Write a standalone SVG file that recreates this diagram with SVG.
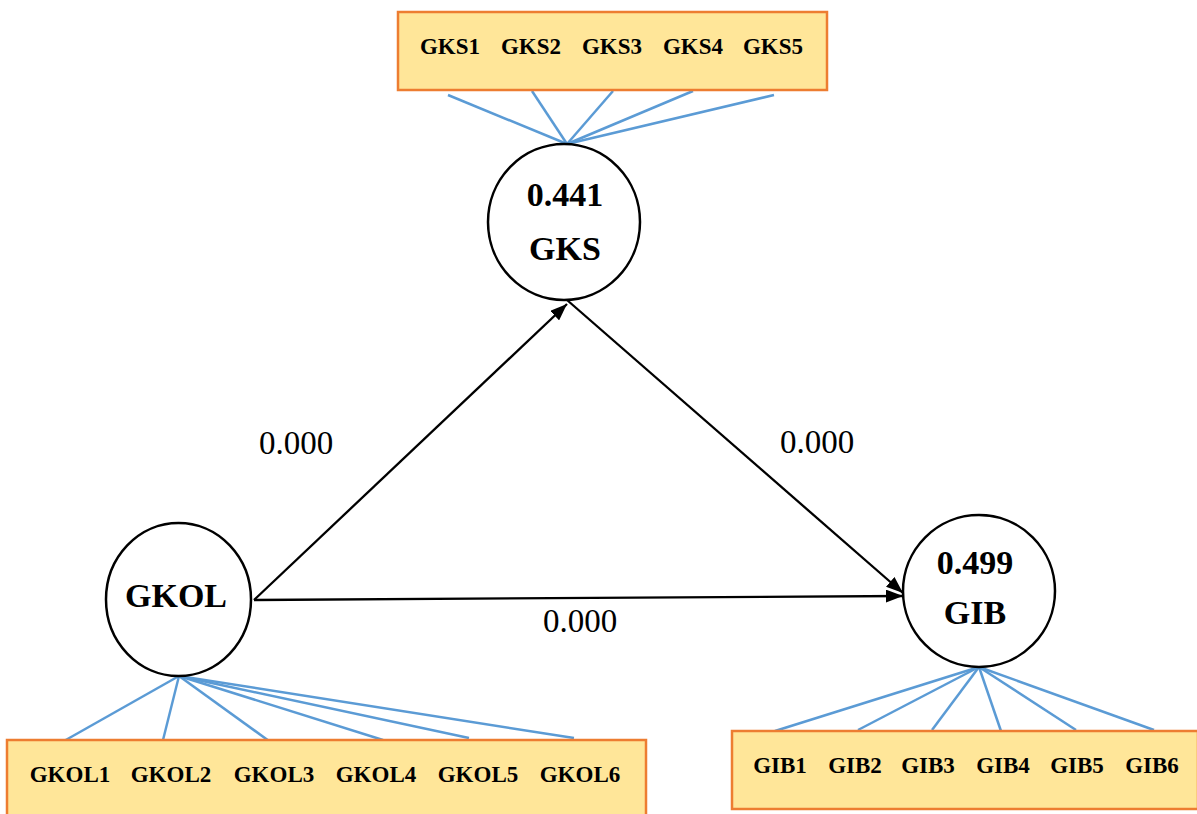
<svg xmlns="http://www.w3.org/2000/svg" width="1197" height="814" viewBox="0 0 1197 814">
<style>
.box{fill:#FFE699;stroke:#ED7D31;stroke-width:2.5}
.lv{fill:#fff;stroke:#000;stroke-width:2.5}
.ind{stroke:#5B9BD5;stroke-width:2.5;fill:none}
.path{stroke:#000;stroke-width:2.3;fill:none}
.it{font-family:"Liberation Serif",serif;font-weight:bold;font-size:23px;text-anchor:middle;fill:#000}
.ct{font-family:"Liberation Serif",serif;font-weight:bold;font-size:34px;text-anchor:middle;fill:#000}
.lb{font-family:"Liberation Serif",serif;font-size:33px;text-anchor:middle;fill:#000}
</style>
<defs>
<marker id="ah" viewBox="0 0 17 13" refX="17" refY="6.5" markerWidth="17" markerHeight="13" markerUnits="userSpaceOnUse" orient="auto">
<path d="M0,0 L17,6.5 L0,13 Z" fill="#000"/>
</marker>
</defs>
<g id="indicators">
<line class="ind" x1="567" y1="144" x2="448" y2="95"/>
<line class="ind" x1="567" y1="144" x2="532" y2="91"/>
<line class="ind" x1="567" y1="144" x2="613" y2="91"/>
<line class="ind" x1="567" y1="144" x2="693" y2="91"/>
<line class="ind" x1="567" y1="144" x2="774" y2="95"/>
<line class="ind" x1="179" y1="676" x2="64" y2="741"/>
<line class="ind" x1="179" y1="676" x2="163" y2="740"/>
<line class="ind" x1="179" y1="676" x2="269" y2="741"/>
<line class="ind" x1="179" y1="676" x2="383" y2="740"/>
<line class="ind" x1="179" y1="676" x2="469" y2="738"/>
<line class="ind" x1="179" y1="676" x2="574" y2="738"/>
<line class="ind" x1="979" y1="667" x2="775" y2="731"/>
<line class="ind" x1="979" y1="667" x2="858" y2="730"/>
<line class="ind" x1="979" y1="667" x2="932" y2="730"/>
<line class="ind" x1="979" y1="667" x2="1002" y2="734"/>
<line class="ind" x1="979" y1="667" x2="1076" y2="730"/>
<line class="ind" x1="979" y1="667" x2="1154" y2="730"/>
</g>
<g id="connectors">
<line class="path" x1="254" y1="600" x2="567" y2="304" marker-end="url(#ah)"/>
<line class="path" x1="567" y1="300" x2="903" y2="593" marker-end="url(#ah)"/>
<line class="path" x1="254" y1="600" x2="903" y2="596" marker-end="url(#ah)"/>
<text class="lb" x="296" y="454">0.000</text>
<text class="lb" x="817" y="453">0.000</text>
<text class="lb" x="580" y="632">0.000</text>
</g>
<g id="GKS-items">
<rect class="box" x="398" y="12" width="429" height="78"/>
<text class="it" x="450" y="54">GKS1</text>
<text class="it" x="531" y="54">GKS2</text>
<text class="it" x="612" y="54">GKS3</text>
<text class="it" x="693" y="54">GKS4</text>
<text class="it" x="773" y="54">GKS5</text>
</g>
<g id="GKOL-items">
<rect class="box" x="7" y="740" width="639" height="80"/>
<text class="it" x="70" y="782">GKOL1</text>
<text class="it" x="171" y="782">GKOL2</text>
<text class="it" x="274" y="782">GKOL3</text>
<text class="it" x="376" y="782">GKOL4</text>
<text class="it" x="478" y="782">GKOL5</text>
<text class="it" x="580" y="782">GKOL6</text>
</g>
<g id="GIB-items">
<rect class="box" x="732" y="731" width="466" height="78"/>
<text class="it" x="780" y="773">GIB1</text>
<text class="it" x="855" y="773">GIB2</text>
<text class="it" x="928" y="773">GIB3</text>
<text class="it" x="1003" y="773">GIB4</text>
<text class="it" x="1077" y="773">GIB5</text>
<text class="it" x="1152" y="773">GIB6</text>
</g>
<g id="GKS">
<ellipse class="lv" cx="564" cy="222" rx="76" ry="78"/>
<text class="ct" x="565" y="206">0.441</text>
<text class="ct" x="565" y="260">GKS</text>
</g>
<g id="GKOL">
<ellipse class="lv" cx="178.5" cy="599.5" rx="72.5" ry="76.5"/>
<text class="ct" x="176" y="607">GKOL</text>
</g>
<g id="GIB">
<ellipse class="lv" cx="979" cy="591" rx="76" ry="76"/>
<text class="ct" x="975" y="574">0.499</text>
<text class="ct" x="975" y="624">GIB</text>
</g>
</svg>
